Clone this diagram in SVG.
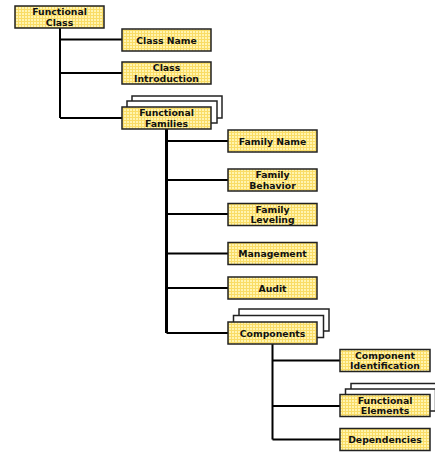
<svg xmlns="http://www.w3.org/2000/svg" width="435" height="453" viewBox="0 0 435 453">
<defs>
<pattern id="grid" width="3" height="3" patternUnits="userSpaceOnUse">
<rect width="3" height="3" fill="#FFF4B0"/>
<path d="M0 0.5H3M0.5 0V3" stroke="#F9DC66" stroke-width="1" fill="none"/>
</pattern>
<style>
.box{fill:url(#grid);stroke:#222;stroke-width:1.5}
.back{fill:#fff;stroke:#222;stroke-width:1.5}
.t{font-family:"DejaVu Sans",Verdana,sans-serif;font-weight:bold;font-size:9.3px;fill:#111;text-anchor:middle}
.c{stroke:#000;stroke-width:2;fill:none}
.ct{stroke:#000;stroke-width:3;fill:none}
</style>
</defs>
<rect width="435" height="453" fill="#fff"/>
<g id="connectors">
<path class="c" d="M60 28V118M60 39.5H122M60 73H122M60 118H122"/>
<path class="ct" d="M166.5 129V333"/>
<path class="c" d="M166.5 141H228M166.5 180H228M166.5 214H228M166.5 253.5H228M166.5 288H228M166.5 333H228"/>
<path class="c" d="M272.5 344V439.5M272.5 360.5H340M272.5 406H340M272.5 439.5H340"/>
</g>
<g id="functional-class">
<rect class="box" x="15" y="6" width="89" height="22"/>
<text class="t" x="59.5" y="15">Functional</text>
<text class="t" x="59.5" y="25.5">Class</text>
</g>
<g id="class-name">
<rect class="box" x="122" y="29" width="89" height="22"/>
<text class="t" x="166.5" y="43.5">Class Name</text>
</g>
<g id="class-introduction">
<rect class="box" x="122" y="62" width="89" height="22"/>
<text class="t" x="166.5" y="71">Class</text>
<text class="t" x="166.5" y="81.5">Introduction</text>
</g>
<g id="functional-families">
<rect class="back" x="132" y="96" width="90" height="22"/>
<rect class="back" x="127" y="101" width="90" height="22"/>
<rect class="box" x="122" y="107" width="89" height="22"/>
<text class="t" x="166.5" y="116">Functional</text>
<text class="t" x="166.5" y="126.5">Families</text>
</g>
<g id="family-name">
<rect class="box" x="228" y="130" width="89" height="22"/>
<text class="t" x="272.5" y="144.5">Family Name</text>
</g>
<g id="family-behavior">
<rect class="box" x="228" y="169" width="89" height="22"/>
<text class="t" x="272.5" y="178">Family</text>
<text class="t" x="272.5" y="188.5">Behavior</text>
</g>
<g id="family-leveling">
<rect class="box" x="228" y="203.5" width="89" height="22"/>
<text class="t" x="272.5" y="212.5">Family</text>
<text class="t" x="272.5" y="223">Leveling</text>
</g>
<g id="management">
<rect class="box" x="228" y="242.5" width="89" height="22"/>
<text class="t" x="272.5" y="257">Management</text>
</g>
<g id="audit">
<rect class="box" x="228" y="277" width="89" height="22"/>
<text class="t" x="272.5" y="291.5">Audit</text>
</g>
<g id="components">
<rect class="back" x="239" y="309" width="90" height="22"/>
<rect class="back" x="233.5" y="315.5" width="90" height="22"/>
<rect class="box" x="228" y="322" width="89" height="22"/>
<text class="t" x="272.5" y="336.5">Components</text>
</g>
<g id="component-identification">
<rect class="box" x="340" y="349.5" width="90" height="22"/>
<text class="t" x="385" y="358.5">Component</text>
<text class="t" x="385" y="369">Identification</text>
</g>
<g id="functional-elements">
<rect class="back" x="351" y="383.5" width="90" height="22"/>
<rect class="back" x="345.5" y="389" width="90" height="22"/>
<rect class="box" x="340" y="394.5" width="90" height="22"/>
<text class="t" x="385" y="403.5">Functional</text>
<text class="t" x="385" y="414">Elements</text>
</g>
<g id="dependencies">
<rect class="box" x="340" y="428.5" width="90" height="22"/>
<text class="t" x="385" y="443">Dependencies</text>
</g>
</svg>
